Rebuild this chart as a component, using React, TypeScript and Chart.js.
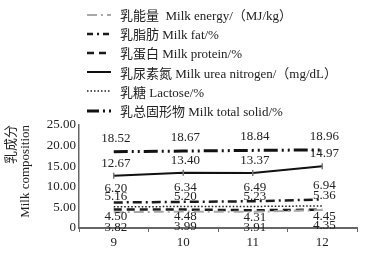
import React, { useEffect, useRef } from "react";
import { Chart, registerables } from "chart.js";

Chart.register(...registerables);

// Sampling months
const months = ["9", "10", "11", "12"];

// Milk composition by month
const milkEnergy = [3.82, 3.99, 3.91, 4.35];
const milkFat = [6.2, 6.34, 6.49, 6.94];
const milkProtein = [4.5, 4.48, 4.31, 4.45];
const milkUreaNitrogen = [12.67, 13.4, 13.37, 14.97];
const lactose = [5.16, 5.2, 5.23, 5.36];
const totalSolid = [18.52, 18.67, 18.84, 18.96];

const yTicks = [0, 5, 10, 15, 20, 25];

const seriesNames = [
  "乳能量  Milk energy/（MJ/kg）",
  "乳脂肪 Milk fat/%",
  "乳蛋白 Milk protein/%",
  "乳尿素氮 Milk urea nitrogen/（mg/dL）",
  "乳糖 Lactose/%",
  "乳总固形物 Milk total solid/%",
];

const SERIF = "'Liberation Serif', 'Times New Roman', 'Noto Sans CJK SC', serif";

type Style = {
  color: string;
  width: number;
  dash: number[];
  legendDash: string;
  labelDy: number;
  errorMarks?: boolean;
};

const styles: Style[] = [
  { color: "#a8a8a8", width: 2, dash: [10, 4, 2, 4], legendDash: "10 4 2 4", labelDy: 15.5 },
  { color: "#1a1a1a", width: 2.5, dash: [9, 4, 2, 4], legendDash: "6 4 2 4", labelDy: -14 },
  { color: "#1a1a1a", width: 2.5, dash: [8, 5], legendDash: "7 5", labelDy: 7 },
  { color: "#111111", width: 2, dash: [], legendDash: "", labelDy: -12.5, errorMarks: true },
  { color: "#1a1a1a", width: 1.5, dash: [1.5, 2], legendDash: "1.5 2", labelDy: -10 },
  { color: "#111111", width: 3, dash: [14, 4, 2, 4, 2, 4], legendDash: "12 4 2 4", labelDy: -13.5 },
];

const seriesData = [milkEnergy, milkFat, milkProtein, milkUreaNitrogen, lactose, totalSolid];

const valueLabels = {
  id: "valueLabels",
  afterDatasetsDraw(chart: any) {
    const ctx = chart.ctx;
    ctx.save();
    ctx.font = `13px ${SERIF}`;
    ctx.fillStyle = "#222";
    ctx.textAlign = "center";
    ctx.textBaseline = "middle";
    chart.data.datasets.forEach((ds: any, i: number) => {
      const meta = chart.getDatasetMeta(i);
      meta.data.forEach((pt: any, j: number) => {
        ctx.fillText(Number(ds.data[j]).toFixed(2), pt.x + 2, pt.y + styles[i].labelDy);
      });
    });
    ctx.restore();
  },
};

export default function App() {
  const canvasRef = useRef<HTMLCanvasElement | null>(null);

  useEffect(() => {
    if (!canvasRef.current) return;
    const chart = new Chart(canvasRef.current, {
      type: "line",
      data: {
        labels: months,
        datasets: seriesData.map((d, i) => ({
          label: seriesNames[i],
          data: d,
          borderColor: styles[i].color,
          borderWidth: styles[i].width,
          borderDash: styles[i].dash,
          fill: false,
          tension: 0,
          pointStyle: "line",
          rotation: 90,
          pointRadius: styles[i].errorMarks ? 3 : 0,
          pointBorderColor: "#777",
          pointBorderWidth: 1.5,
        })),
      },
      options: {
        animation: false,
        responsive: false,
        layout: { padding: { top: 125, left: 4, right: 10, bottom: 0 } },
        plugins: {
          legend: { display: false },
          tooltip: { enabled: false },
        },
        scales: {
          x: {
            type: "category",
            offset: true,
            grid: {
              display: true,
              drawOnChartArea: false,
              drawTicks: true,
              tickLength: 4,
              offset: true,
              color: "#666",
            },
            border: { display: true, color: "#666", width: 2 },
            ticks: { color: "#222", font: { family: SERIF, size: 13 }, padding: 3 },
            afterFit(scale: any) {
              scale.height = 33;
            },
          },
          y: {
            min: 0,
            max: 25,
            grid: { display: false, drawTicks: false },
            border: { display: true, color: "#666", width: 1.5 },
            afterBuildTicks(scale: any) {
              scale.ticks = yTicks.map((v) => ({ value: v }));
            },
            ticks: {
              color: "#222",
              font: { family: SERIF, size: 13 },
              padding: 3,
              callback: (v: any) => (Number(v) === 0 ? "0" : Number(v).toFixed(2)),
            },
            title: {
              display: true,
              text: ["乳成分", "Milk composition"],
              align: "end",
              color: "#222",
              font: { family: SERIF, size: 13, lineHeight: 1.1 },
              padding: { top: 0, bottom: 2 },
            },
            afterFit(scale: any) {
              scale.width = 75;
            },
          },
        },
      },
      plugins: [valueLabels],
    });
    return () => chart.destroy();
  }, []);

  return (
    <div style={{ position: "fixed", left: 0, top: 0, width: 367, height: 261, background: "#fff" }}>
      <canvas ref={canvasRef} width={367} height={261} style={{ position: "absolute", left: 0, top: 0 }} />
      <div style={{ position: "absolute", left: 87, top: 5 }}>
        {seriesNames.map((name, i) => (
          <div
            key={name}
            style={{
              display: "flex",
              alignItems: "center",
              height: 19.2,
              fontFamily: SERIF,
              fontSize: 13,
              color: "#222",
              whiteSpace: "pre",
            }}
          >
            <svg width={24} height={10} style={{ marginRight: 9 }}>
              <line
                x1={0}
                y1={5}
                x2={24}
                y2={5}
                stroke={styles[i].color}
                strokeWidth={styles[i].width}
                strokeDasharray={styles[i].legendDash || undefined}
              />
            </svg>
            <span>{name}</span>
          </div>
        ))}
      </div>
    </div>
  );
}
